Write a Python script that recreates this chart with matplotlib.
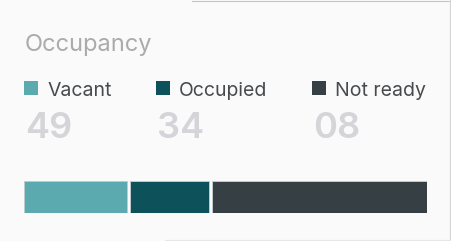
import matplotlib
matplotlib.use("Agg")
import matplotlib.pyplot as plt
from matplotlib.patches import Rectangle

plt.rcParams["font.family"] = ["Inter", "DejaVu Sans"]

TITLE = "Occupancy"
CATEGORIES = ["Vacant", "Occupied", "Not ready"]
COUNTS = ["49", "34", "08"]
BAR_SHARES = [26.1, 20.2, 53.7]
COLORS = ["#5AAAB0", "#0D515B", "#353F44"]

W, H = 451, 241
BG = "#FAFAFA"

fig = plt.figure(figsize=(W / 100, H / 100), dpi=100)
fig.patch.set_facecolor(BG)

# overlay in pixel coordinates for the text block
ov = fig.add_axes([0, 0, 1, 1])
ov.set_xlim(0, W)
ov.set_ylim(H, 0)
ov.axis("off")

# faint card edges (screenshot shadow)
ov.plot([192, W], [0.6, 0.6], color="#C4C4C4", lw=0.8)
ov.plot([449.6, 449.6], [0, H], color="#D4D4D4", lw=0.8)
ov.plot([165, W], [240.3, 240.3], color="#E6E6E6", lw=0.8)

ov.text(25, 50.7, TITLE, fontsize=17, color="#ABABAB", va="baseline", ha="left")

legend_x = [24.3, 156.3, 312.3]
for x, name, count, c in zip(legend_x, CATEGORIES, COUNTS, COLORS):
    ov.add_patch(Rectangle((x, 81), 14, 13.5, facecolor=c, edgecolor="none"))
    ov.text(x + 23, 95.6, name, fontsize=14, color="#484B4E", va="baseline", ha="left")
    ov.text(x + 0.8, 138.3, count, fontsize=26, fontweight="semibold",
            color="#D5D5D9", va="baseline", ha="left")

# stacked bar
gap = 0.9
total = sum(BAR_SHARES)
ax = fig.add_axes([24.3 / W, (H - 213.3) / H, 402.4 / W, 32 / H])
left = 0
for v, c in zip(BAR_SHARES, COLORS):
    ax.barh(0, v - gap, left=left + gap / 2, height=1, color=c,
            edgecolor="#BFCBCD", linewidth=0.7)
    left += v
ax.set_xlim(gap / 2, total - gap / 2)
ax.set_ylim(-0.5, 0.5)
ax.axis("off")

fig.savefig("out.png", dpi=100, facecolor=BG)
